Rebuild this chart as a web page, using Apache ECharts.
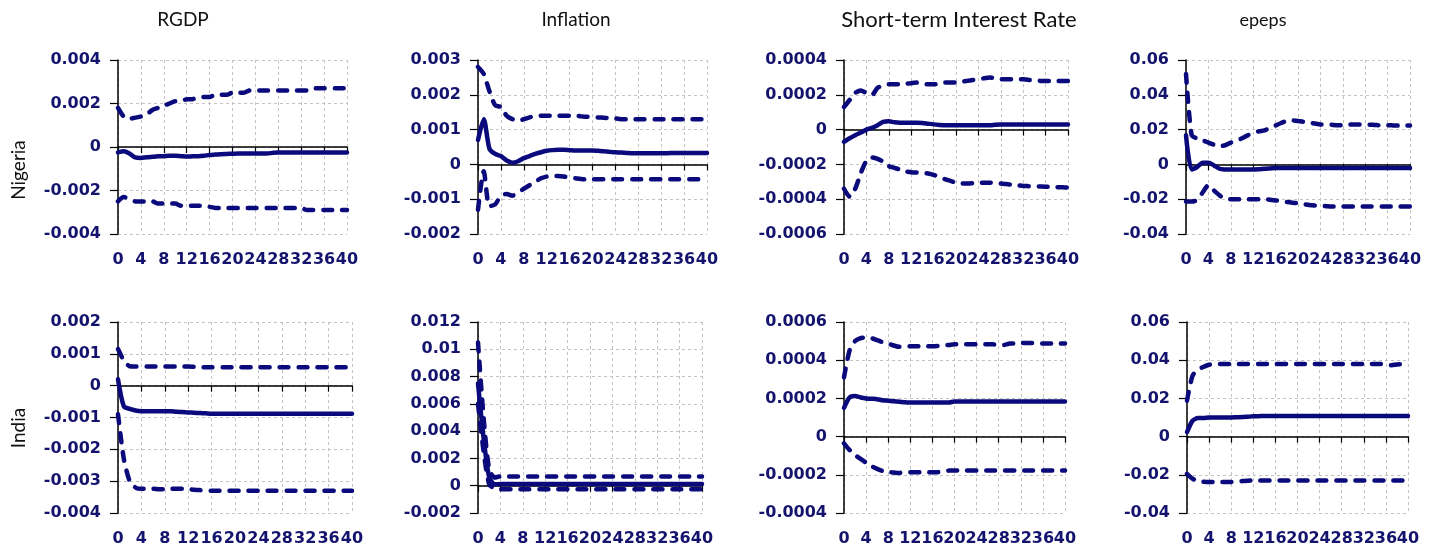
<!DOCTYPE html>
<html>
<head>
<meta charset="utf-8">
<script src="https://cdn.jsdelivr.net/npm/echarts@6/dist/echarts.min.js"></script>
<style>
  html, body { margin: 0; padding: 0; background: #fff; }
  #chart { width: 1437px; height: 554px; }
</style>
</head>
<body>
<div id="chart"></div>
<script>
// Impulse responses over 40 periods: response (solid) with upper/lower bands (dashed)
const periods = [0,1,2,3,4,5,6,7,8,9,10,11,12,13,14,15,16,17,18,19,20,21,22,23,24,25,26,27,28,29,30,31,32,33,34,35,36,37,38,39,40];
const columnTitles = ['RGDP', 'Inflation', 'Short-term Interest Rate', 'epeps'];
const rowLabels = ['Nigeria', 'India'];

// y-axis tick values for each panel (row-major)
const ticksNgRgdp = [-0.004, -0.002, 0, 0.002, 0.004];
const ticksNgInfl = [-0.002, -0.001, 0, 0.001, 0.002, 0.003];
const ticksNgRate = [-0.0006, -0.0004, -0.0002, 0, 0.0002, 0.0004];
const ticksNgEpeps = [-0.04, -0.02, 0, 0.02, 0.04, 0.06];
const ticksInRgdp = [-0.004, -0.003, -0.002, -0.001, 0, 0.001, 0.002];
const ticksInInfl = [-0.002, 0, 0.002, 0.004, 0.006, 0.008, 0.01, 0.012];
const ticksInRate = [-0.0004, -0.0002, 0, 0.0002, 0.0004, 0.0006];
const ticksInEpeps = [-0.04, -0.02, 0, 0.02, 0.04, 0.06];

// Nigeria — RGDP
const ngRgdpUpper = [0.0018,0.0014,0.0013,0.00135,0.0014,0.0015,0.0017,0.0018,0.0019,0.0020,
  0.0021,0.0021,0.0022,0.0022,0.0023,0.0023,0.0023,0.0024,0.0024,0.0024,
  0.0025,0.0025,0.0025,0.0026,0.0026,0.0026,0.0026,0.0026,0.0026,0.0026,
  0.0026,0.0026,0.0026,0.0026,0.0027,0.0027,0.0027,0.0027,0.0027,0.0027,0.0027];
const ngRgdpResp = [-0.00025,-0.0002,-0.0003,-0.00048,-0.0005,-0.00047,-0.00045,-0.00043,-0.00042,-0.0004,
  -0.0004,-0.00042,-0.00044,-0.00043,-0.00042,-0.0004,-0.00037,-0.00035,-0.00033,-0.00032,
  -0.00031,-0.0003,-0.0003,-0.0003,-0.0003,-0.0003,-0.0003,-0.00027,-0.00025,-0.00025,
  -0.00025,-0.00025,-0.00025,-0.00025,-0.00025,-0.00025,-0.00025,-0.00025,-0.00025,-0.00025,-0.00025];
const ngRgdpLower = [-0.0025,-0.0023,-0.0024,-0.0025,-0.0025,-0.0025,-0.0025,-0.0026,-0.0026,-0.0026,
  -0.0026,-0.0027,-0.0027,-0.0027,-0.0027,-0.0027,-0.00275,-0.0028,-0.0028,-0.0028,
  -0.0028,-0.0028,-0.0028,-0.0028,-0.0028,-0.0028,-0.0028,-0.0028,-0.0028,-0.0028,
  -0.0028,-0.0028,-0.0028,-0.0029,-0.0029,-0.0029,-0.0029,-0.0029,-0.0029,-0.0029,-0.0029];

// Nigeria — Inflation
const ngInflUpper = [0.0028,0.0026,0.0021,0.0017,0.00165,0.0014,0.0013,0.00125,0.0013,0.00135,
  0.0014,0.0014,0.0014,0.0014,0.0014,0.0014,0.0014,0.0014,0.00138,0.00137,
  0.00136,0.00135,0.00134,0.00133,0.00132,0.0013,0.0013,0.0013,0.0013,0.0013,
  0.0013,0.0013,0.0013,0.0013,0.0013,0.0013,0.0013,0.0013,0.0013,0.0013,0.0013];
const ngInflResp = [0.0007,0.0013,0.00045,0.0003,0.00024,0.00011,0.00005,0.00009,0.00018,0.00024,
  0.0003,0.00035,0.00039,0.00041,0.00042,0.00042,0.00041,0.0004,0.0004,0.0004,
  0.0004,0.00039,0.00038,0.00036,0.00035,0.00034,0.00033,0.00032,0.00032,0.00032,
  0.00032,0.00032,0.00032,0.00032,0.00033,0.00033,0.00033,0.00033,0.00033,0.00033,0.00033];
const ngInflLower = [-0.0013,-0.0002,-0.0012,-0.00115,-0.0009,-0.00085,-0.0009,-0.0008,-0.0007,-0.0006,
  -0.0005,-0.0004,-0.00035,-0.00033,-0.00033,-0.00035,-0.00038,-0.0004,-0.00042,-0.00043,
  -0.00043,-0.00043,-0.00043,-0.00043,-0.00043,-0.00043,-0.00043,-0.00043,-0.00043,-0.00043,
  -0.00043,-0.00043,-0.00043,-0.00043,-0.00043,-0.00043,-0.00043,-0.00043,-0.00043,-0.00043,-0.00043];

// Nigeria — Short-term interest rate
const ngRateUpper = [0.00013,0.00017,0.00021,0.000225,0.00021,0.0002,0.00024,0.000253,0.00026,0.00026,
  0.00026,0.000263,0.000267,0.00027,0.000265,0.00026,0.00026,0.000265,0.00027,0.00027,
  0.00027,0.000275,0.00028,0.000285,0.00029,0.000295,0.0003,0.000295,0.00029,0.00029,
  0.00029,0.00029,0.00029,0.000285,0.000285,0.00028,0.00028,0.00028,0.00028,0.00028,0.00028];
const ngRateResp = [-0.00007,-0.00005,-0.000032,-0.000017,0,0.00001,0.000025,0.000044,0.000048,0.000042,
  0.00004,0.00004,0.00004,0.00004,0.000038,0.000034,0.00003,0.000027,0.000025,0.000025,
  0.000025,0.000025,0.000025,0.000025,0.000025,0.000025,0.000025,0.000028,0.00003,0.00003,
  0.00003,0.00003,0.00003,0.00003,0.00003,0.00003,0.00003,0.00003,0.00003,0.00003,0.00003];
const ngRateLower = [-0.00034,-0.000385,-0.00034,-0.00025,-0.00018,-0.00016,-0.000168,-0.000185,-0.00021,-0.00022,
  -0.00023,-0.00024,-0.000245,-0.000247,-0.000248,-0.000252,-0.00026,-0.000272,-0.000285,-0.000295,
  -0.000305,-0.00031,-0.00031,-0.000308,-0.000305,-0.000305,-0.000305,-0.000307,-0.00031,-0.000313,
  -0.000317,-0.00032,-0.000324,-0.000325,-0.000326,-0.000327,-0.000328,-0.00033,-0.000331,-0.000332,-0.000333];

// Nigeria — epeps
const ngEpepsUpper = [0.052,0.017,0.0148,0.0138,0.0125,0.0113,0.0105,0.011,0.0125,0.0138,
  0.015,0.0167,0.018,0.019,0.0195,0.021,0.0224,0.0238,0.025,0.0253,
  0.025,0.0245,0.024,0.0235,0.023,0.023,0.0228,0.0225,0.0225,0.0228,
  0.023,0.023,0.023,0.0228,0.0226,0.0225,0.0225,0.0224,0.0223,0.0223,0.0223];
const ngEpepsResp = [0.0167,-0.0029,-0.0015,0.001,0.001,-0.0006,-0.0025,-0.0029,-0.003,-0.003,
  -0.003,-0.003,-0.003,-0.0028,-0.0025,-0.0023,-0.0021,-0.002,-0.002,-0.002,
  -0.002,-0.002,-0.002,-0.002,-0.002,-0.002,-0.002,-0.002,-0.002,-0.002,
  -0.002,-0.002,-0.002,-0.002,-0.002,-0.002,-0.002,-0.002,-0.002,-0.002,-0.002];
const ngEpepsLower = [-0.0213,-0.0213,-0.0205,-0.016,-0.012,-0.015,-0.0178,-0.02,-0.02,-0.02,
  -0.02,-0.02,-0.02,-0.02,-0.02,-0.0203,-0.0207,-0.0211,-0.0216,-0.022,
  -0.0223,-0.0228,-0.0233,-0.0236,-0.0238,-0.024,-0.0242,-0.0242,-0.0242,-0.0242,
  -0.0242,-0.0242,-0.0242,-0.0242,-0.0242,-0.0242,-0.0242,-0.0242,-0.0242,-0.0242,-0.0242];

// India — RGDP
const inRgdpUpper = [0.00115,0.00079,0.00061,0.0006,0.0006,0.0006,0.0006,0.0006,0.0006,0.0006,
  0.0006,0.0006,0.0006,0.00059,0.00058,0.00058,0.00058,0.00058,0.00058,0.00058,
  0.00058,0.00058,0.00058,0.00058,0.00058,0.00058,0.00058,0.00058,0.00058,0.00058,
  0.00058,0.00058,0.00058,0.00058,0.00058,0.00058,0.00058,0.00058,0.00058,0.00058,0.00058];
const inRgdpResp = [0.0002,-0.00065,-0.00073,-0.00078,-0.0008,-0.0008,-0.0008,-0.0008,-0.0008,-0.0008,
  -0.00082,-0.00083,-0.00084,-0.00085,-0.00086,-0.00087,-0.00088,-0.00088,-0.00088,-0.00088,
  -0.00088,-0.00088,-0.00088,-0.00088,-0.00088,-0.00088,-0.00088,-0.00088,-0.00088,-0.00088,
  -0.00088,-0.00088,-0.00088,-0.00088,-0.00088,-0.00088,-0.00088,-0.00088,-0.00088,-0.00088,-0.00088];
const inRgdpLower = [-0.0009,-0.0023,-0.003,-0.0032,-0.00324,-0.00324,-0.00324,-0.00325,-0.00325,-0.00324,
  -0.00324,-0.00324,-0.00325,-0.00327,-0.00328,-0.0033,-0.0033,-0.0033,-0.0033,-0.0033,
  -0.0033,-0.0033,-0.0033,-0.0033,-0.0033,-0.0033,-0.0033,-0.0033,-0.0033,-0.0033,
  -0.0033,-0.0033,-0.0033,-0.0033,-0.0033,-0.0033,-0.0033,-0.0033,-0.0033,-0.0033,-0.0033];

// India — Inflation
const inInflUpper = [0.0105,0.005,0.0012,0.0006,0.00068,0.00068,0.00068,0.00068,0.00068,0.00068,
  0.00068,0.00068,0.00068,0.00068,0.00068,0.00068,0.00068,0.00068,0.00068,0.00068,
  0.00068,0.00068,0.00068,0.00068,0.00068,0.00068,0.00068,0.00068,0.00068,0.00068,
  0.00068,0.00068,0.00068,0.00068,0.00068,0.00068,0.00068,0.00068,0.00068,0.00068,0.00068];
const inInflResp = [0.0075,0.0035,0.0006,0.0001,0.00012,0.00012,0.00012,0.00012,0.00012,0.00012,
  0.00012,0.00012,0.00012,0.00012,0.00012,0.00012,0.00012,0.00012,0.00012,0.00012,
  0.00012,0.00012,0.00012,0.00012,0.00012,0.00012,0.00012,0.00012,0.00012,0.00012,
  0.00012,0.00012,0.00012,0.00012,0.00012,0.00012,0.00012,0.00012,0.00012,0.00012,0.00012];
const inInflLower = [0.006,0.0025,0.0001,-0.0002,-0.00025,-0.00025,-0.00025,-0.00025,-0.00025,-0.00025,
  -0.00025,-0.00025,-0.00025,-0.00025,-0.00025,-0.00025,-0.00025,-0.00025,-0.00025,-0.00025,
  -0.00025,-0.00025,-0.00025,-0.00025,-0.00025,-0.00025,-0.00025,-0.00025,-0.00025,-0.00025,
  -0.00025,-0.00025,-0.00025,-0.00025,-0.00025,-0.00025,-0.00025,-0.00025,-0.00025,-0.00025,-0.00025];

// India — Short-term interest rate
const inRateUpper = [0.00031,0.00045,0.0005,0.000515,0.00052,0.000515,0.000505,0.000494,0.000487,0.000477,
  0.00047,0.00047,0.000473,0.000473,0.000473,0.000473,0.000473,0.000475,0.000478,0.00048,
  0.000483,0.000483,0.000483,0.000483,0.000483,0.000483,0.000483,0.000483,0.00048,0.00048,
  0.000487,0.000488,0.00049,0.00049,0.00049,0.000488,0.000487,0.000487,0.000487,0.000487,0.000487];
const inRateResp = [0.00015,0.000205,0.000212,0.000205,0.0002,0.000198,0.000196,0.00019,0.000188,0.000185,
  0.000183,0.00018,0.000179,0.000179,0.000179,0.000179,0.000179,0.000179,0.000179,0.000179,
  0.000184,0.000184,0.000184,0.000184,0.000184,0.000184,0.000184,0.000184,0.000184,0.000184,
  0.000184,0.000184,0.000184,0.000184,0.000184,0.000184,0.000184,0.000184,0.000184,0.000184,0.000184];
const inRateLower = [-0.000035,-0.00007,-0.000096,-0.000117,-0.000137,-0.000155,-0.000169,-0.00018,-0.000186,-0.000188,
  -0.00019,-0.000188,-0.000186,-0.000186,-0.000186,-0.000186,-0.000186,-0.000186,-0.00018,-0.000178,
  -0.000177,-0.000177,-0.000177,-0.000177,-0.000177,-0.000177,-0.000177,-0.000177,-0.000177,-0.000177,
  -0.000177,-0.000177,-0.000177,-0.000177,-0.000177,-0.000177,-0.000177,-0.000177,-0.000177,-0.000177,-0.000177];

// India — epeps
const inEpepsUpper = [0.0188,0.0318,0.0353,0.0365,0.0376,0.038,0.038,0.038,0.038,0.038,
  0.038,0.038,0.038,0.038,0.038,0.038,0.038,0.038,0.038,0.038,
  0.038,0.038,0.038,0.038,0.038,0.038,0.038,0.038,0.038,0.038,
  0.038,0.038,0.038,0.038,0.038,0.038,0.0374,0.0374,0.0378,0.038,0.038];
const inEpepsResp = [0.0023,0.0083,0.0097,0.0097,0.01,0.01,0.01,0.01,0.01,0.0101,
  0.0102,0.0104,0.0106,0.0107,0.0108,0.0108,0.0108,0.0108,0.0108,0.0108,
  0.0108,0.0108,0.0108,0.0108,0.0108,0.0108,0.0108,0.0108,0.0108,0.0108,
  0.0108,0.0108,0.0108,0.0108,0.0108,0.0108,0.0108,0.0108,0.0108,0.0108,0.0108];
const inEpepsLower = [-0.0195,-0.022,-0.0235,-0.0237,-0.0238,-0.0238,-0.0238,-0.0238,-0.0238,-0.0235,
  -0.0233,-0.0231,-0.023,-0.023,-0.023,-0.023,-0.023,-0.023,-0.023,-0.023,
  -0.023,-0.023,-0.023,-0.023,-0.023,-0.023,-0.023,-0.023,-0.023,-0.023,
  -0.023,-0.023,-0.023,-0.023,-0.023,-0.023,-0.023,-0.023,-0.023,-0.023,-0.023];

const panels = [
  { ticks: ticksNgRgdp,  upper: ngRgdpUpper,  resp: ngRgdpResp,  lower: ngRgdpLower },
  { ticks: ticksNgInfl,  upper: ngInflUpper,  resp: ngInflResp,  lower: ngInflLower },
  { ticks: ticksNgRate,  upper: ngRateUpper,  resp: ngRateResp,  lower: ngRateLower },
  { ticks: ticksNgEpeps, upper: ngEpepsUpper, resp: ngEpepsResp, lower: ngEpepsLower },
  { ticks: ticksInRgdp,  upper: inRgdpUpper,  resp: inRgdpResp,  lower: inRgdpLower },
  { ticks: ticksInInfl,  upper: inInflUpper,  resp: inInflResp,  lower: inInflLower },
  { ticks: ticksInRate,  upper: inRateUpper,  resp: inRateResp,  lower: inRateLower },
  { ticks: ticksInEpeps, upper: inEpepsUpper, resp: inEpepsResp, lower: inEpepsLower }
];

// plot-area boxes [left, top, width, height]
const boxes = [
  [118, 60, 229, 174], [478, 60, 229, 174], [844, 60, 224, 174], [1186, 60, 224, 174],
  [118, 322, 234, 191], [478, 322, 224, 191], [844, 322, 221, 191], [1187, 322, 221, 191]
];

const NAVY = '#0a0a7c';
const LABEL = '#14146e';
const GRID = '#c4c4c4';
const labelFont = { fontFamily: 'DejaVu Sans', fontWeight: 'bold', fontSize: 16, color: LABEL };
// strip floating-point noise from tick values (e.g. 0.00039999…)
const fmtTick = v => String(Number(v.toFixed(10)));

const grids = [], xAxes = [], yAxes = [], series = [];
panels.forEach((p, i) => {
  const b = boxes[i];
  grids.push({ left: b[0], top: b[1], width: b[2], height: b[3], containLabel: false });
  const xmin = periods[0], xmax = periods[periods.length - 1];
  // axis drawn through zero, carrying tick marks and vertical grid lines
  xAxes.push({
    type: 'value', gridIndex: i, min: xmin, max: xmax, interval: 4,
    axisLine: { show: true, onZero: true, lineStyle: { color: '#000', width: 1.5 } },
    axisTick: { show: true, inside: false, length: 6, lineStyle: { color: '#000', width: 1.2 } },
    axisLabel: { show: false },
    splitLine: { show: true, lineStyle: { color: GRID, type: [3, 3], width: 1 } }
  });
  // period labels along the bottom edge
  xAxes.push({
    type: 'value', gridIndex: i, min: xmin, max: xmax, interval: 4, position: 'bottom',
    axisLine: { show: false, onZero: false }, axisTick: { show: false },
    axisLabel: Object.assign({ margin: 18, hideOverlap: false, formatter: fmtTick }, labelFont),
    splitLine: { show: false }
  });
  const t = p.ticks;
  yAxes.push({
    type: 'value', gridIndex: i, min: t[0], max: t[t.length - 1], interval: t[1] - t[0],
    axisLine: { show: true, onZero: false, lineStyle: { color: '#000', width: 1.5 } },
    axisTick: { show: true, inside: false, length: 8, lineStyle: { color: '#000', width: 1.2 } },
    axisLabel: Object.assign({ margin: 17, formatter: fmtTick }, labelFont),
    splitLine: { show: true, lineStyle: { color: GRID, type: [3, 3], width: 1 } }
  });
  const mk = (vals, dashed) => ({
    type: 'line', xAxisIndex: i * 2, yAxisIndex: i, showSymbol: false, smooth: 0.25,
    silent: true, animation: false,
    data: periods.map((x, k) => [x, vals[k]]),
    lineStyle: dashed
      ? { color: NAVY, width: 4.5, type: [9, 10], cap: 'round', join: 'round' }
      : { color: NAVY, width: 4.5, cap: 'round', join: 'round' }
  });
  series.push(mk(p.upper, true), mk(p.resp, false), mk(p.lower, true));
});

const colCenters = [183, 576, 959, 1263];
const titleSizes = [19, 19, 22, 18];
const graphic = columnTitles.map((txt, c) => ({
  type: 'text', x: colCenters[c], y: 20, silent: true,
  style: { text: txt, fill: '#111', font: titleSizes[c] + 'px Lato', align: 'center', verticalAlign: 'middle' }
}));
const rowCenters = [170, 428];
rowLabels.forEach((txt, r) => graphic.push({
  type: 'text', x: 19, y: rowCenters[r], rotation: Math.PI / 2, silent: true,
  style: { text: txt, fill: '#111', font: '19px Lato', align: 'center', verticalAlign: 'middle' }
}));

const chart = echarts.init(document.getElementById('chart'), null, { renderer: 'canvas' });
chart.setOption({
  animation: false,
  backgroundColor: '#fff',
  grid: grids, xAxis: xAxes, yAxis: yAxes, series: series, graphic: graphic
});
</script>
</body>
</html>
